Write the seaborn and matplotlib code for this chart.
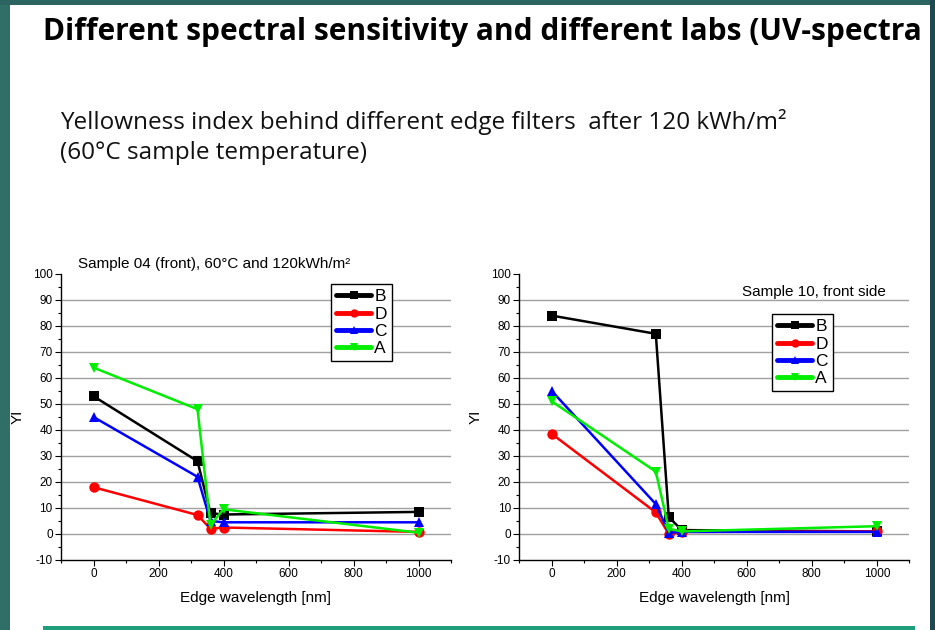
import matplotlib
matplotlib.use("Agg")
import matplotlib.pyplot as plt
import matplotlib.patches as mpatches
from matplotlib.ticker import MultipleLocator
import numpy as np
import pandas as pd
import seaborn as sns

# ---- data ----
edge_nm = [0, 320, 360, 400, 1000]
labs = ["B", "D", "C", "A"]

s04_B = [53, 28, 8, 7.5, 8.5]
s04_D = [18, 7.3, 2, 2.5, 0.8]
s04_C = [45, 22, 5, 4.5, 4.5]
s04_A = [64, 48, 3.5, 9.5, 0.5]

s10_B = [84, 77, 6.5, 1.5, 1]
s10_D = [38.5, 8.3, 0, 0.8, 1]
s10_C = [55, 11.5, 0.5, 0.8, 0.8]
s10_A = [51, 24, 2, 1, 3]

main_title = "Different spectral sensitivity and different labs (UV-spectra"
sub_line1 = "Yellowness index behind different edge filters  after 120 kWh/m\u00b2"
sub_line2 = "(60\u00b0C sample temperature)"
left_title = "Sample 04 (front), 60\u00b0C and 120kWh/m\u00b2"
right_title = "Sample 10, front side"
x_label = "Edge wavelength [nm]"
y_label = "YI"

colors = {"B": "#000000", "D": "#ff0000", "C": "#0000ff", "A": "#00ee00"}
markers = {"B": "s", "D": "o", "C": "^", "A": "v"}


def make_df(series):
    rows = []
    for lab, vals in zip(labs, series):
        for x, y in zip(edge_nm, vals):
            rows.append({"x": x, "YI": y, "lab": lab})
    return pd.DataFrame(rows)


df04 = make_df([s04_B, s04_D, s04_C, s04_A])
df10 = make_df([s10_B, s10_D, s10_C, s10_A])

sns.set_style("white")
plt.rcParams["font.family"] = ["Liberation Sans", "DejaVu Sans"]
plt.rcParams["axes.unicode_minus"] = False
plt.rcParams["text.color"] = "black"
plt.rcParams["axes.labelcolor"] = "black"
plt.rcParams["xtick.color"] = "black"
plt.rcParams["ytick.color"] = "black"

W, H = 935, 630
fig = plt.figure(figsize=(W / 100, H / 100), dpi=100)
fig.patch.set_facecolor("white")


def fx(px):
    return px / W


def fy(py):
    return 1 - py / H


ax1 = fig.add_axes([fx(61), fy(560), fx(451) - fx(61), fy(274) - fy(560)])
ax2 = fig.add_axes([fx(519.3), fy(560), fx(909.3) - fx(519.3), fy(274) - fy(560)])


def style_ax(ax, df, legend_anchor):
    sns.lineplot(data=df, x="x", y="YI", hue="lab", style="lab",
                 hue_order=labs, style_order=labs, palette=colors,
                 markers=markers, dashes=False, linewidth=1.8,
                 markersize=7.5, markeredgewidth=0, ax=ax, legend=True,
                 sort=False)
    ax.set_xlim(-100, 1100)
    ax.set_ylim(-10, 100)
    ax.xaxis.set_major_locator(MultipleLocator(200))
    ax.xaxis.set_minor_locator(MultipleLocator(100))
    ax.yaxis.set_major_locator(MultipleLocator(10))
    ax.yaxis.set_minor_locator(MultipleLocator(5))
    ax.tick_params(which="major", direction="out", length=4, width=0.8,
                   labelsize=8.5, pad=2, left=True, bottom=True, colors="black")
    ax.tick_params(which="minor", direction="out", length=2.5, width=0.8,
                   left=True, bottom=True, colors="black")
    for sp in ["top", "right"]:
        ax.spines[sp].set_visible(False)
    for sp in ["left", "bottom"]:
        ax.spines[sp].set_color("black")
        ax.spines[sp].set_linewidth(1.0)
    for yv in range(0, 100, 10):
        ax.axhline(yv, color="#a0a0a0", lw=1.0, zorder=0)
    ax.grid(False)
    ax.set_xlabel(x_label, fontsize=11, labelpad=8, color="black")
    ax.set_ylabel(y_label, fontsize=11, labelpad=6, color="black")
    ax.set_facecolor("white")
    handles, lbls = ax.get_legend_handles_labels()
    leg = ax.legend(handles, lbls, loc="upper left",
                    bbox_to_anchor=legend_anchor, bbox_transform=fig.transFigure,
                    frameon=True, fancybox=False, edgecolor="black",
                    framealpha=1, fontsize=12.5, handlelength=2.0,
                    handletextpad=0.2, labelspacing=0.12, borderpad=0.3,
                    borderaxespad=0)
    leg.get_frame().set_linewidth(1.0)
    for ln in leg.get_lines():
        ln.set_linewidth(3.5)
        ln.set_markersize(6)
    for t in leg.get_texts():
        t.set_color("black")


style_ax(ax1, df04, (fx(331), fy(284)))
style_ax(ax2, df10, (fx(772), fy(314)))

fig.text(fx(78), fy(268), left_title, fontsize=11, va="baseline", ha="left",
         color="black")
ax2.text(fx(886), fy(296), right_title, fontsize=11, va="baseline", ha="right",
         transform=fig.transFigure, color="black")

# slide texts
fig.text(fx(43), fy(40), main_title, fontsize=21.5, fontweight="bold",
         family=["Open Sans", "DejaVu Sans"], va="baseline", ha="left",
         color="black")
fig.text(fx(60), fy(129), sub_line1, fontsize=17.5,
         family=["Open Sans", "DejaVu Sans"], va="baseline", ha="left",
         color="#111111")
fig.text(fx(60), fy(159), sub_line2, fontsize=17.5,
         family=["Open Sans", "DejaVu Sans"], va="baseline", ha="left",
         color="#111111")

# slide decoration
fig.patches.append(mpatches.Rectangle((0, 0), fx(10), 1, transform=fig.transFigure,
                                      facecolor="#2f6f68", edgecolor="none", zorder=10))
fig.patches.append(mpatches.Rectangle((0, fy(5)), 1, fy(0) - fy(5), transform=fig.transFigure,
                                      facecolor="#2b6460", edgecolor="none", zorder=10))
fig.patches.append(mpatches.Rectangle((fx(930), 0), fx(935) - fx(930), 1, transform=fig.transFigure,
                                      facecolor="#1e4a4f", edgecolor="none", zorder=10))
fig.patches.append(mpatches.Rectangle((fx(43), 0), fx(915) - fx(43), fy(626), transform=fig.transFigure,
                                      facecolor="#1e9e7c", edgecolor="none", zorder=10))

fig.savefig("out.png", dpi=100, facecolor=fig.get_facecolor())
